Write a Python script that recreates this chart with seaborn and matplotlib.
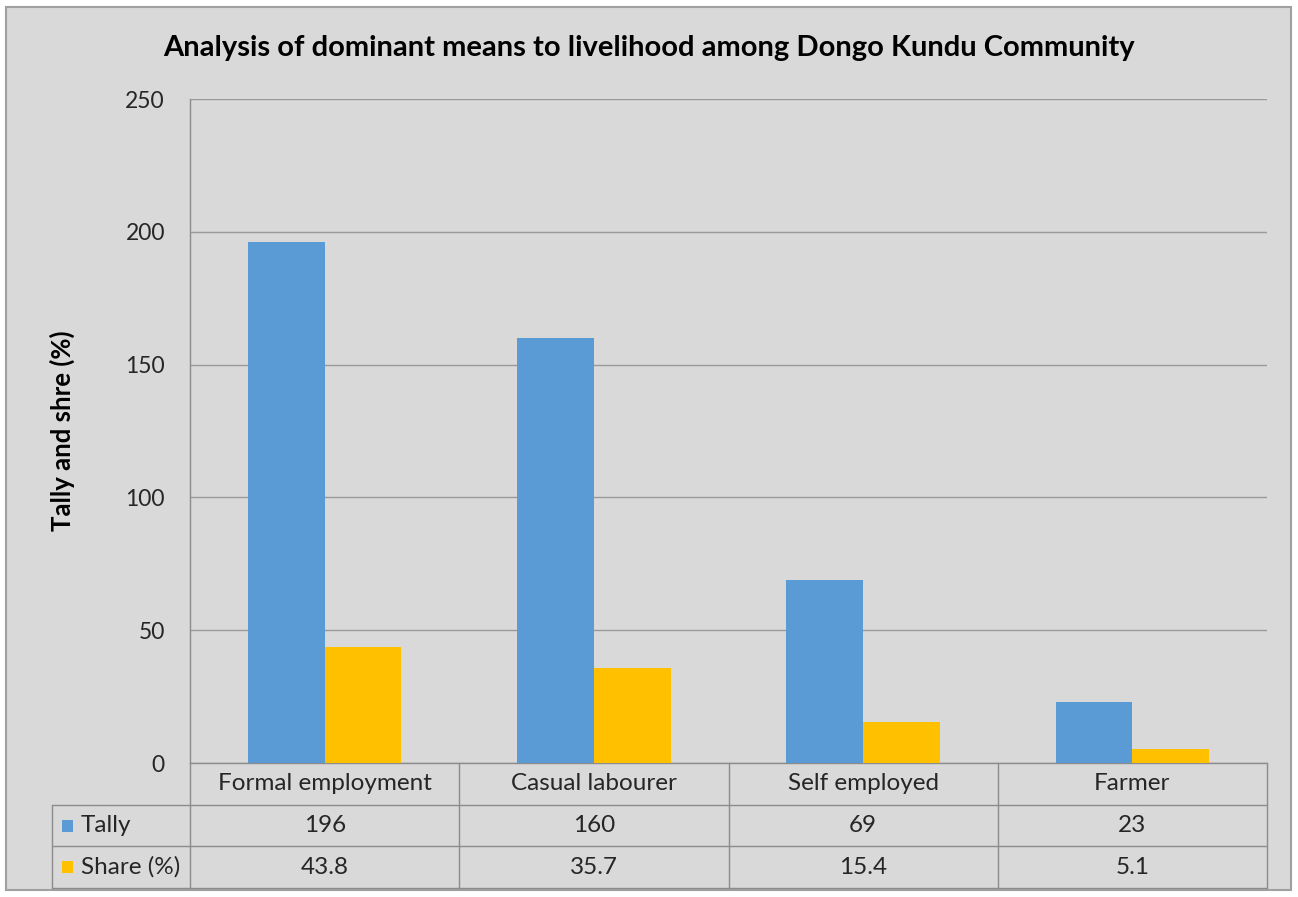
import pandas as pd
import matplotlib.pyplot as plt
import matplotlib.transforms as mtransforms
from matplotlib.patches import Rectangle
import seaborn as sns

# --- data ---
categories = ['Formal employment', 'Casual labourer', 'Self employed', 'Farmer']
tally = [196, 160, 69, 23]
share = [43.8, 35.7, 15.4, 5.1]
series_names = ['Tally', 'Share (%)']
colors = ['#5b9bd5', '#ffc000']

df = pd.DataFrame({
    'category': categories * 2,
    'series': [series_names[0]] * len(categories) + [series_names[1]] * len(categories),
    'value': tally + share,
})

sns.set_theme(style='white')
plt.rcParams['font.family'] = ['Lato', 'DejaVu Sans']

W, H = 1298, 897
fig = plt.figure(figsize=(W / 100, H / 100), dpi=100)
fig.patch.set_facecolor('white')
# chart area (grey with border)
fig.add_artist(Rectangle((6 / W, 7 / H), 1285 / W, 883 / H, transform=fig.transFigure,
                         facecolor='#d9d9d9', edgecolor='#a0a0a0', lw=1.5, zorder=-1))

ax = fig.add_axes([190 / W, 1 - 763 / H, (1267 - 190) / W, (763 - 99) / H])
ax.set_facecolor('none')

sns.barplot(data=df, x='category', y='value', hue='series', palette=colors,
            width=0.57, gap=0, saturation=1, legend=False, ax=ax, zorder=3,
            linewidth=0, edgecolor='none')

ax.set_ylim(0, 250)
ax.set_yticks(range(0, 251, 50))
ax.set_xlim(-0.5, len(categories) - 0.5)
ax.grid(axis='y', color='#9a9a9a', lw=1)
ax.set_axisbelow(True)
for s in ['top', 'right']:
    ax.spines[s].set_visible(False)
for s in ['left', 'bottom']:
    ax.spines[s].set_color('#8c8c8c')
    ax.spines[s].set_linewidth(1)
ax.tick_params(axis='x', length=0, labelbottom=False)
ax.tick_params(axis='y', length=0, pad=18, labelsize=16.5, labelcolor='#262626')
ax.set_xlabel('')
ax.set_ylabel('')
fig.text(62 / W, 1 - 431 / H, 'Tally and shre (%)', rotation=90, ha='center', va='center',
         fontsize=18.5, fontweight='bold', color='black')

fig.text(0.5, 1 - 48 / H, 'Analysis of dominant means to livelihood among Dongo Kundu Community',
         ha='center', va='center', fontsize=21, fontweight='bold', color='black')

# --- data table below the axis ---
trans = mtransforms.blended_transform_factory(ax.transData, ax.transAxes)
h = 41.7 / 664
n = len(categories)
lc = '#8c8c8c'
left = (52 - 190) / 1077  # axes fraction of the legend column
rows = [tally, share]

# horizontal lines
for k in (1, 2, 3):
    ax.plot([left, 1], [-k * h, -k * h], transform=ax.transAxes, color=lc, lw=1, clip_on=False)
# vertical lines
ax.plot([0, 0], [0, -3 * h], transform=ax.transAxes, color=lc, lw=1, clip_on=False)
ax.plot([left, left], [-h, -3 * h], transform=ax.transAxes, color=lc, lw=1, clip_on=False)
for i in range(n):
    ax.plot([i + 0.5, i + 0.5], [0, -3 * h], transform=trans, color=lc, lw=1, clip_on=False)

for i, cat in enumerate(categories):
    ax.text(i, -0.5 * h, cat, transform=trans, ha='center', va='center', fontsize=17.5, color='#262626')
    for r, vals in enumerate(rows):
        ax.text(i, -(r + 1.5) * h, f'{vals[i]:g}', transform=trans, ha='center', va='center',
                fontsize=17.5, color='#262626')

for r, name in enumerate(series_names):
    yc = -(r + 1.5) * h
    ax.add_patch(Rectangle(((62 - 190) / 1077, yc - 6 / 664), 11 / 1077, 12 / 664,
                           transform=ax.transAxes, facecolor=colors[r], edgecolor='none',
                           clip_on=False))
    ax.text((81 - 190) / 1077, yc, name, transform=ax.transAxes, ha='left', va='center',
            fontsize=17.5, color='#262626')

plt.savefig('out.png', dpi=100)
